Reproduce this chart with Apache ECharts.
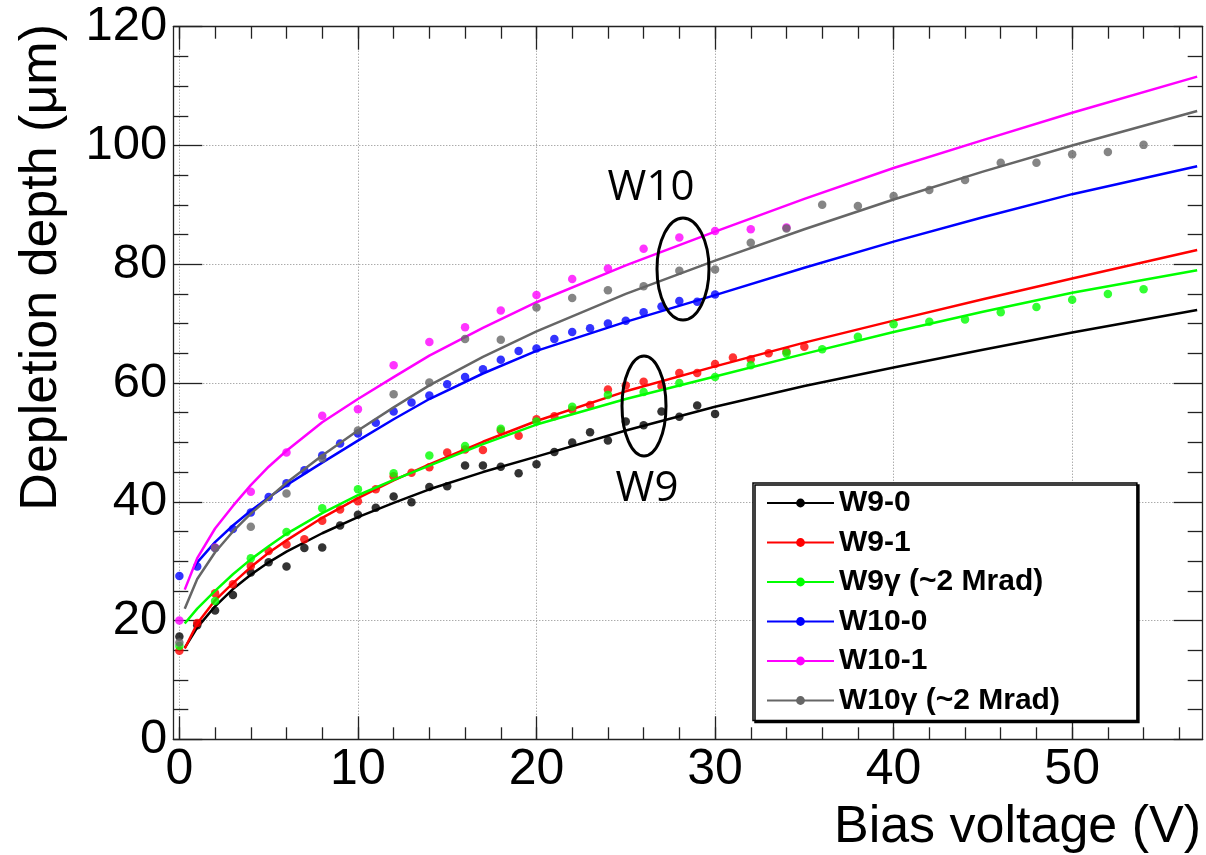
<!DOCTYPE html>
<html>
<head>
<meta charset="utf-8">
<script src="https://cdn.jsdelivr.net/npm/echarts@6/dist/echarts.min.js"></script>
<style>
html,body{margin:0;padding:0;background:#fff;}
#chart{width:1206px;height:855px;}
</style>
</head>
<body>
<div id="chart"></div>
<script>
// ---- data ----
const seriesNames = ['W9-0', 'W9-1', 'W9\u03b3 (~2 Mrad)', 'W10-0', 'W10-1', 'W10\u03b3 (~2 Mrad)'];
const seriesColors = ['#000000', '#ff0000', '#00ff00', '#0000ff', '#ff00ff', '#666666'];

// measured points
const voltsW9_0 = [0,1,2,3,4,5,6,7,8,9,10,11,12,13,14,15,16,17,18,19,20,21,22,23,24,25,26,27,28,29,30];
const depthW9_0 = [17.3,19.2,21.7,24.3,28.1,29.8,29.1,32.2,32.3,36.0,37.8,39.0,40.9,39.9,42.5,42.6,46.1,46.1,45.9,44.8,46.3,48.4,50.0,51.7,50.3,53.5,52.9,55.2,54.3,56.2,54.8];

const voltsW9_1 = [0,1,2,3,4,5,6,7,8,9,10,11,12,13,14,15,16,17,18,19,20,21,22,23,24,25,26,27,28,29,30,31,32,33,34,35];
const depthW9_1 = [14.9,19.6,24.6,26.1,29.2,31.7,32.8,33.7,36.8,38.7,40.1,42.1,44.3,44.9,45.8,48.3,48.8,48.7,52.0,51.1,53.9,54.4,55.5,56.3,58.9,59.6,60.2,59.5,61.7,61.7,63.2,64.3,64.0,65.0,65.3,66.1];

const voltsW9g = [0,2,4,6,8,10,12,14,16,18,20,22,24,26,28,30,32,34,36,38,40,42,44,46,48,50,52,54];
const depthW9g = [15.7,23.3,30.5,34.9,38.9,42.1,44.8,47.8,49.4,52.3,53.5,56.0,58.0,58.5,60.0,61.0,63.0,65.0,65.7,67.8,69.9,70.3,70.7,71.9,72.8,74.0,75.0,75.8];

const voltsW10_0 = [0,1,2,3,4,5,6,7,8,9,10,11,12,13,14,15,16,17,18,19,20,21,22,23,24,25,26,27,28,29,30];
const depthW10_0 = [27.5,29.1,32.2,35.4,38.2,40.8,43.1,45.3,47.8,49.8,51.5,53.3,55.2,56.7,57.9,59.8,61.0,62.3,63.9,65.4,65.8,67.4,68.6,69.2,70.0,70.5,71.9,72.9,73.8,73.7,74.9];

const voltsW10_1 = [0,2,4,6,8,10,12,14,16,18,20,22,24,26,28,30,32,34];
const depthW10_1 = [20.0,32.3,41.7,48.3,54.5,55.6,63.0,66.9,69.4,72.2,74.8,77.5,79.3,82.6,84.5,85.6,85.9,86.2];

const voltsW10g = [0,2,4,6,8,10,12,14,16,18,20,22,24,26,28,30,32,34,36,38,40,42,44,46,48,50,52,54];
const depthW10g = [16.3,32.2,35.8,41.4,47.3,52.0,58.1,60.1,67.4,67.3,72.7,74.3,75.6,76.3,78.9,79.1,83.6,86.0,90.0,89.8,91.5,92.5,94.2,97.1,97.1,98.5,98.9,100.1];

// fit curves
const fitVolts   = [0.3,1,2,3,4,5,6,8,10,12,14,17,20,25,30,35,40,45,50,57];
const fitVoltsB  = [0.8,1,2,3,4,5,6,8,10,12,14,17,20,25,30,35,40,45,50,57];
const fitW9_0  = [15.4,18.8,22.4,25.3,27.7,29.8,31.6,34.7,37.4,39.8,42.1,45.0,47.6,52.0,56.0,59.5,62.6,65.6,68.5,72.3];
const fitW9_1  = [15.3,19.5,23.4,26.3,29.0,31.4,33.5,37.3,40.6,43.6,46.3,50.1,53.6,58.6,62.8,66.8,70.5,74.1,77.6,82.4];
const fitW9g   = [19.5,22.0,25.0,27.8,30.3,32.5,34.6,38.1,41.1,43.7,46.1,49.7,53.0,57.3,61.1,64.9,68.6,72.0,75.2,79.0];
const fitW10_0 = [28.8,29.8,33.2,36.0,38.5,40.7,42.8,46.6,50.3,53.9,57.3,61.6,65.4,70.3,74.8,79.4,83.8,87.9,91.8,96.5];
const fitW10_1 = [25.2,30.5,35.5,39.3,42.8,45.9,48.6,53.4,57.3,61.0,64.6,69.3,73.6,79.8,85.5,91.0,96.2,100.9,105.5,111.6];
const fitW10g  = [22.0,27.0,31.5,35.0,38.0,40.6,43.2,47.8,52.0,55.9,59.6,64.4,68.7,75.0,80.6,85.9,90.9,95.6,100.0,105.8];

const xMajorTicks = [0,10,20,30,40,50];
const xMinorTicks = [0,2,4,6,8,10,12,14,16,18,20,22,24,26,28,30,32,34,36,38,40,42,44,46,48,50,52,54,56];

const pointSets = [
  [voltsW9_0, depthW9_0], [voltsW9_1, depthW9_1], [voltsW9g, depthW9g],
  [voltsW10_0, depthW10_0], [voltsW10_1, depthW10_1], [voltsW10g, depthW10g]
];
const fitSets = [
  [fitVolts, fitW9_0], [fitVolts, fitW9_1], [fitVolts, fitW9g],
  [fitVoltsB, fitW10_0], [fitVolts, fitW10_1], [fitVolts, fitW10g]
];

const zip = (xs, ys) => xs.map((x, i) => [x, ys[i]]);

// ---- chart ----
const chart = echarts.init(document.getElementById('chart'), null, {renderer: 'canvas'});
const FONT = '"Liberation Sans", Arial, Helvetica, sans-serif';
const frameColor = '#222';
const gridLine = {show: true, lineStyle: {color: '#888', width: 1, type: [1, 2]}};

const series = [];
seriesNames.forEach((name, i) => {
  series.push({
    name: name, type: 'line', xAxisIndex: 0, yAxisIndex: 0,
    data: zip(fitSets[i][0], fitSets[i][1]),
    smooth: false,
    symbol: 'circle', showSymbol: false, symbolSize: 8,
    lineStyle: {color: seriesColors[i], width: 2.5, join: 'round'},
    itemStyle: {color: seriesColors[i]},
    z: 2 + i * 2, silent: true
  });
  series.push({
    name: name, type: 'scatter', xAxisIndex: 0, yAxisIndex: 0,
    data: zip(pointSets[i][0], pointSets[i][1]),
    symbol: 'circle', symbolSize: 8.5,
    itemStyle: {color: seriesColors[i]},
    z: 3 + i * 2, silent: true
  });
});

const xBase = {type: 'value', min: -0.34, max: 57.31, gridIndex: 0};

const option = {
  animation: false,
  backgroundColor: '#fff',
  grid: {left: 173.3, right: 3.3, top: 26.7, bottom: 115.7, containLabel: false},
  xAxis: [
    Object.assign({}, xBase, {
      position: 'bottom',
      axisLine: {show: true, onZero: false, lineStyle: {color: frameColor, width: 1.3}},
      axisTick: {show: true, inside: true, length: 23, customValues: xMajorTicks, lineStyle: {color: frameColor, width: 1.3}},
      axisLabel: {show: true, customValues: xMajorTicks, margin: 6, fontSize: 50, fontFamily: FONT, color: '#000'},
      splitLine: gridLine
    }),
    Object.assign({}, xBase, {
      position: 'bottom',
      axisLine: {show: false, onZero: false},
      axisTick: {show: true, inside: true, length: 12, customValues: xMinorTicks, lineStyle: {color: frameColor, width: 1.3}},
      axisLabel: {show: false},
      splitLine: {show: false}
    }),
    Object.assign({}, xBase, {
      position: 'top',
      axisLine: {show: true, onZero: false, lineStyle: {color: frameColor, width: 1.3}},
      axisTick: {show: true, inside: true, length: 23, customValues: xMajorTicks, lineStyle: {color: frameColor, width: 1.3}},
      axisLabel: {show: false},
      splitLine: {show: false}
    }),
    Object.assign({}, xBase, {
      position: 'top',
      axisLine: {show: false, onZero: false},
      axisTick: {show: true, inside: true, length: 12, customValues: xMinorTicks, lineStyle: {color: frameColor, width: 1.3}},
      axisLabel: {show: false},
      splitLine: {show: false}
    })
  ],
  yAxis: [
    {
      type: 'value', min: 0, max: 120, interval: 20, position: 'left',
      axisLine: {show: true, onZero: false, lineStyle: {color: frameColor, width: 1.3}},
      axisTick: {show: true, inside: true, length: 29, lineStyle: {color: frameColor, width: 1.3}},
      minorTick: {show: true, splitNumber: 4, length: 15, lineStyle: {color: frameColor, width: 1.3}},
      axisLabel: {show: true, margin: 6, fontSize: 49, fontFamily: FONT, color: '#000'},
      splitLine: gridLine
    },
    {
      type: 'value', min: 0, max: 120, interval: 20, position: 'right',
      axisLine: {show: true, onZero: false, lineStyle: {color: frameColor, width: 1.3}},
      axisTick: {show: true, inside: true, length: 29, lineStyle: {color: frameColor, width: 1.3}},
      minorTick: {show: true, splitNumber: 4, length: 15, lineStyle: {color: frameColor, width: 1.3}},
      axisLabel: {show: false},
      splitLine: {show: false}
    }
  ],
  legend: {
    show: true, orient: 'vertical', left: 753, top: 483,
    data: seriesNames,
    selectedMode: false,
    itemWidth: 67, itemHeight: 11, itemGap: 9.5, itemTextGap: 16,
    padding: [5, 77, 5, 13],
    backgroundColor: '#fff', borderColor: '#000', borderWidth: 1.5, borderRadius: 0,
    shadowColor: '#000', shadowBlur: 0, shadowOffsetX: 2, shadowOffsetY: 2,
    textStyle: {fontFamily: FONT, fontWeight: 'bold', fontSize: 30, lineHeight: 30, color: '#000'}
  },
  graphic: [
    {type: 'text', x: 1201, y: 828, z: 100,
     style: {text: 'Bias voltage (V)', font: '52px ' + FONT, fill: '#000', textAlign: 'right', textVerticalAlign: 'middle'}},
    {type: 'text', x: 42, y: 24, rotation: Math.PI / 2, z: 100,
     style: {text: 'Depletion depth (\u03bcm)', font: '52px ' + FONT, fill: '#000', textAlign: 'right', textVerticalAlign: 'middle'}},
    {type: 'text', x: 651, y: 188, z: 100,
     style: {text: 'W10', font: '42px "Open Sans", sans-serif', fill: '#000', textAlign: 'center', textVerticalAlign: 'middle'}},
    {type: 'text', x: 647, y: 489, z: 100,
     style: {text: 'W9', font: '42px "Open Sans", sans-serif', fill: '#000', textAlign: 'center', textVerticalAlign: 'middle'}},
    {type: 'ellipse', z: 100, shape: {cx: 683, cy: 269, rx: 26, ry: 51},
     style: {fill: 'none', stroke: '#000', lineWidth: 3}},
    {type: 'ellipse', z: 100, shape: {cx: 644, cy: 406, rx: 22, ry: 50},
     style: {fill: 'none', stroke: '#000', lineWidth: 3}}
  ],
  series: series
};
chart.setOption(option);
</script>
</body>
</html>
